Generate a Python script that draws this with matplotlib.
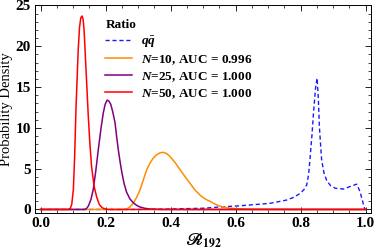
import matplotlib
matplotlib.use('Agg')
from matplotlib import pyplot as plt
from matplotlib.ticker import MultipleLocator

plt.rcParams['font.family'] = ['Liberation Serif', 'DejaVu Serif']
plt.rcParams['font.weight'] = 'bold'
plt.rcParams['mathtext.fontset'] = 'custom'
plt.rcParams['mathtext.rm'] = 'Liberation Serif:bold'
plt.rcParams['mathtext.it'] = 'Liberation Serif:italic:bold'
plt.rcParams['mathtext.bf'] = 'Liberation Serif:bold'

# qq-bar background (dashed blue)
qq_x = [0.0, 0.3, 0.4, 0.5, 0.552, 0.614, 0.706, 0.757, 0.78, 0.798, 0.81, 0.819, 0.825,
        0.829, 0.835, 0.840, 0.846, 0.851, 0.855, 0.858, 0.862, 0.865, 0.872, 0.881,
        0.893, 0.907, 0.932, 0.952, 0.973, 0.983, 0.998, 1.0]
qq_y = [0.0, 0.0, 0.05, 0.15, 0.3, 0.45, 0.75, 1.15, 1.5, 1.95, 2.4, 3.0, 4.3,
        6.1, 9.0, 11.8, 14.8, 16.1, 13.5, 10.2, 7.8, 6.1, 4.5, 3.5,
        2.9, 2.6, 2.5, 2.8, 3.1, 2.2, 0.0, 0.0]

# N = 10
n10_x = [0.0, 0.25, 0.265, 0.275, 0.286, 0.296, 0.306, 0.317, 0.327, 0.337, 0.347, 0.357,
         0.368, 0.378, 0.388, 0.398, 0.413, 0.429, 0.445, 0.46, 0.475, 0.491, 0.506,
         0.521, 0.537, 0.552, 0.575, 0.6, 0.65, 1.0]
n10_y = [0.0, 0.0, 0.05, 0.3, 0.8, 1.5, 2.4, 3.7, 4.9, 5.7, 6.3, 6.7,
         6.95, 7.0, 6.85, 6.5, 5.8, 4.9, 4.0, 3.2, 2.4, 1.75, 1.3,
         1.0, 0.65, 0.4, 0.2, 0.1, 0.02, 0.0]

# N = 25
n25_x = [0.0, 0.135, 0.141, 0.147, 0.155, 0.162, 0.170, 0.178, 0.186, 0.193, 0.199, 0.205,
         0.210, 0.216, 0.222, 0.229, 0.234, 0.239, 0.245, 0.25, 0.257, 0.265, 0.275,
         0.286, 0.296, 0.306, 0.32, 0.337, 0.37, 1.0]
n25_y = [0.0, 0.0, 0.1, 0.4, 1.2, 2.4, 4.7, 7.4, 9.9, 11.8, 12.9, 13.4,
         13.3, 12.9, 12.0, 10.7, 9.0, 7.4, 5.8, 4.6, 3.2, 2.1, 1.3,
         0.8, 0.5, 0.3, 0.15, 0.05, 0.0, 0.0]

# N = 50
n50_x = [0.0, 0.085, 0.091, 0.096, 0.101, 0.105, 0.109, 0.113, 0.116, 0.120, 0.124, 0.128,
         0.131, 0.134, 0.137, 0.142, 0.147, 0.152, 0.157, 0.165, 0.173, 0.181, 0.19,
         0.2, 0.21, 1.0]
n50_y = [0.0, 0.0, 0.1, 0.6, 2.4, 6.5, 12.2, 16.5, 19.6, 22.3, 23.5, 23.7,
         23.3, 22.0, 19.6, 15.5, 11.4, 8.0, 5.3, 2.8, 1.5, 0.6, 0.2,
         0.05, 0.0, 0.0]

labels = [r'$q\bar{q}$', r'$N$=10, AUC = 0.996', r'$N$=25, AUC = 1.000', r'$N$=50, AUC = 1.000']
colors = ['#1a1aff', '#ff8c00', '#800080', '#ff0000']

fig = plt.figure(figsize=(3.74, 2.49), dpi=100)
ax = fig.add_axes([35 / 374, 1 - 213.3 / 249, 335.7 / 374, 208.3 / 249])

ax.plot(qq_x, qq_y, color=colors[0], lw=1.0, dashes=(3, 2), label=labels[0])
ax.plot(n10_x, n10_y, color=colors[1], lw=1.1, label=labels[1])
ax.plot(n25_x, n25_y, color=colors[2], lw=1.1, label=labels[2])
ax.plot(n50_x, n50_y, color=colors[3], lw=1.1, label=labels[3])

ax.set_xlim(-0.017, 1.016)
ax.set_ylim(-0.47, 25.05)
ax.xaxis.set_major_locator(MultipleLocator(0.2))
ax.xaxis.set_minor_locator(MultipleLocator(0.05))
ax.yaxis.set_major_locator(MultipleLocator(5))
ax.yaxis.set_minor_locator(MultipleLocator(1))
ax.tick_params(which='both', direction='in', top=True, right=True, labelsize=11, pad=3)
ax.tick_params(which='major', length=4, width=0.6)
ax.tick_params(which='minor', length=2, width=0.5)
for s in ax.spines.values():
    s.set_linewidth(0.7)

ax.set_ylabel('Probability Density', fontsize=10.5, labelpad=2)
ax.set_xlabel(r'$\mathscr{R}_{\mathbf{192}}$', fontsize=12, math_fontfamily='stix', labelpad=1)

leg = ax.legend(loc='upper left', bbox_to_anchor=(96 / 374, 1 - 10 / 249), bbox_transform=fig.transFigure,
                frameon=False, fontsize=9.5, title='Ratio', title_fontproperties={'weight': 'bold', 'size': 9.5},
                handlelength=2.0, handletextpad=0.7, labelspacing=0.25, borderpad=0.2, alignment='left')

fig.savefig('out.png', dpi=100)
